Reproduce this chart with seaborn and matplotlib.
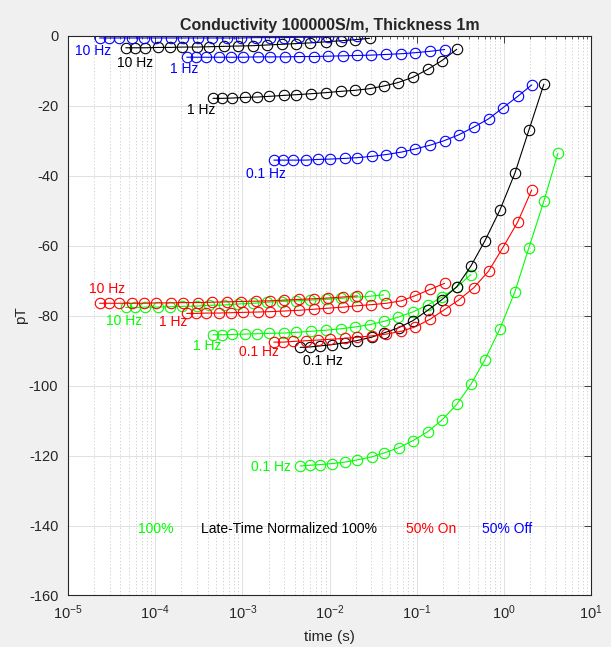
import numpy as np
import pandas as pd
import matplotlib
matplotlib.use("Agg")
import matplotlib.pyplot as plt
import seaborn as sns
from matplotlib.ticker import LogLocator, FixedLocator, NullFormatter

# ---------------- data ----------------
# 100% (green)
t_green_01 = [0.0046, 0.0059, 0.0077, 0.0108, 0.0149, 0.0204, 0.0304, 0.0418, 0.0621, 0.0900,
              0.134, 0.194, 0.288, 0.418, 0.605, 0.900, 1.34, 1.94, 2.88, 4.18]
v_green_01 = [-123.0, -122.8, -122.6, -122.3, -121.9, -121.3, -120.4, -119.3, -117.8, -115.8,
              -113.2, -109.9, -105.4, -99.7, -92.7, -83.8, -73.2, -60.6, -47.3, -33.6]
t_green_1 = [0.00046, 0.00059, 0.00077, 0.00108, 0.00149, 0.00204, 0.00304, 0.00418, 0.00621, 0.00900,
             0.0134, 0.0194, 0.0288, 0.0418, 0.0605, 0.0900, 0.134, 0.194, 0.288, 0.418]
v_green_1 = [-85.5, -85.5, -85.4, -85.3, -85.2, -85.1, -85.0, -84.8, -84.5, -84.2,
             -83.8, -83.3, -82.6, -81.7, -80.5, -79.0, -77.0, -74.8, -71.9, -68.3]
t_green_10 = [4.6e-05, 5.9e-05, 7.7e-05, 1.08e-04, 1.49e-04, 2.04e-04, 3.04e-04, 4.18e-04, 6.21e-04, 9.0e-04,
              1.34e-03, 1.94e-03, 2.88e-03, 4.18e-03, 6.05e-03, 9.0e-03, 0.0134, 0.0194, 0.0288, 0.0418]
v_green_10 = [-77.7, -77.7, -77.6, -77.6, -77.5, -77.4, -77.3, -77.1, -77.0, -76.7,
              -76.5, -76.2, -76.0, -75.8, -75.6, -75.4, -75.1, -74.8, -74.5, -74.1]

# Late-Time Normalized 100% (black)
t_black_01 = [0.0046, 0.0059, 0.0077, 0.0108, 0.0149, 0.0204, 0.0304, 0.0418, 0.0621, 0.0900,
              0.134, 0.194, 0.288, 0.418, 0.605, 0.900, 1.34, 1.94, 2.88]
v_black_01 = [-89.1, -89.0, -88.7, -88.3, -87.8, -87.2, -86.2, -85.0, -83.5, -81.5,
              -78.5, -75.5, -71.8, -65.9, -58.7, -49.9, -39.3, -27.0, -13.9]
t_black_1 = [0.00046, 0.00059, 0.00077, 0.00108, 0.00149, 0.00204, 0.00304, 0.00418, 0.00621, 0.00900,
             0.0134, 0.0194, 0.0288, 0.0418, 0.0605, 0.0900, 0.134, 0.194, 0.288]
v_black_1 = [-17.95, -17.95, -17.86, -17.67, -17.57, -17.38, -17.10, -16.90, -16.62, -16.33,
             -15.95, -15.67, -15.19, -14.43, -13.48, -11.95, -9.67, -7.19, -3.95]
t_black_10 = [4.6e-05, 5.9e-05, 7.7e-05, 1.08e-04, 1.49e-04, 2.04e-04, 3.04e-04, 4.18e-04, 6.21e-04, 9.0e-04,
              1.34e-03, 1.94e-03, 2.88e-03, 4.18e-03, 6.05e-03, 9.0e-03, 0.0134, 0.0194, 0.0288]
v_black_10 = [-3.5, -3.5, -3.5, -3.4, -3.4, -3.3, -3.3, -3.2, -3.1, -3.0,
              -2.9, -2.7, -2.5, -2.3, -2.1, -1.8, -1.5, -1.2, -0.8]

# 50% On (red)
t_red_01 = [0.0023, 0.00295, 0.00385, 0.0054, 0.00745, 0.0102, 0.0152, 0.0209, 0.0311, 0.0450,
            0.0669, 0.0969, 0.144, 0.209, 0.302, 0.450, 0.669, 0.969, 1.44, 2.09]
v_red_01 = [-87.6, -87.6, -87.4, -87.2, -87.0, -86.8, -86.5, -86.2, -85.8, -85.3,
            -84.5, -83.2, -81.0, -78.3, -75.6, -72.1, -67.3, -60.7, -53.3, -44.1]
t_red_1 = [0.00023, 0.000295, 0.000385, 0.00054, 0.000745, 0.00102, 0.00152, 0.00209, 0.00311, 0.00450,
           0.00669, 0.00969, 0.0144, 0.0209, 0.0302, 0.0450, 0.0669, 0.0969, 0.144, 0.209]
v_red_1 = [-79.4, -79.4, -79.3, -79.3, -79.2, -79.1, -79.0, -78.9, -78.7, -78.5,
           -78.2, -77.9, -77.6, -77.2, -76.9, -76.5, -75.8, -74.3, -72.5, -70.8]
t_red_10 = [2.3e-05, 2.95e-05, 3.85e-05, 5.4e-05, 7.45e-05, 1.02e-04, 1.52e-04, 2.09e-04, 3.11e-04, 4.50e-04,
            6.69e-04, 9.69e-04, 1.44e-03, 2.09e-03, 3.02e-03, 4.50e-03, 6.69e-03, 9.69e-03, 0.0144, 0.0209]
v_red_10 = [-76.5, -76.5, -76.5, -76.5, -76.5, -76.4, -76.4, -76.3, -76.3, -76.2,
            -76.1, -76.0, -75.9, -75.8, -75.6, -75.4, -75.2, -75.0, -74.7, -74.4]

# 50% Off (blue)
t_blue_01 = [0.0023, 0.00295, 0.00385, 0.0054, 0.00745, 0.0102, 0.0152, 0.0209, 0.0311, 0.0450,
             0.0669, 0.0969, 0.144, 0.209, 0.302, 0.450, 0.669, 0.969, 1.44, 2.09]
v_blue_01 = [-35.6, -35.6, -35.6, -35.6, -35.4, -35.3, -35.1, -34.9, -34.5, -34.0,
             -33.3, -32.4, -31.3, -30.0, -28.4, -26.2, -23.8, -20.7, -17.4, -14.1]
t_blue_1 = [0.00023, 0.000295, 0.000385, 0.00054, 0.000745, 0.00102, 0.00152, 0.00209, 0.00311, 0.00450,
            0.00669, 0.00969, 0.0144, 0.0209, 0.0302, 0.0450, 0.0669, 0.0969, 0.144, 0.209]
v_blue_1 = [-6.2, -6.2, -6.2, -6.2, -6.2, -6.2, -6.1, -6.1, -6.1, -6.0,
            -6.0, -5.9, -5.8, -5.7, -5.6, -5.4, -5.2, -4.9, -4.5, -4.0]
t_blue_10 = [2.3e-05, 2.95e-05, 3.85e-05, 5.4e-05, 7.45e-05, 1.02e-04, 1.52e-04, 2.09e-04, 3.11e-04, 4.50e-04,
             6.69e-04, 9.69e-04, 1.44e-03, 2.09e-03, 3.02e-03, 4.50e-03, 6.69e-03, 9.69e-03, 0.0144, 0.0209]
v_blue_10 = [-0.7, -0.7, -0.7, -0.7, -0.7, -0.7, -0.7, -0.7, -0.7, -0.7,
             -0.7, -0.7, -0.6, -0.6, -0.6, -0.5, -0.5, -0.4, -0.3, -0.2]

y_ticks = [0, -20, -40, -60, -80, -100, -120, -140, -160]

# curve labels: (text, color, t, value)
curve_labels = [
    ("10 Hz", "blue", 1.20e-5, -4.3),
    ("10 Hz", "black", 3.69e-5, -7.8),
    ("1 Hz", "blue", 1.49e-4, -9.7),
    ("1 Hz", "black", 2.33e-4, -21.3),
    ("0.1 Hz", "blue", 1.11e-3, -39.6),
    ("10 Hz", "red", 1.74e-5, -72.5),
    ("10 Hz", "green", 2.71e-5, -81.7),
    ("1 Hz", "red", 1.11e-4, -81.9),
    ("1 Hz", "green", 2.69e-4, -88.7),
    ("0.1 Hz", "red", 9.24e-4, -90.3),
    ("0.1 Hz", "black", 4.93e-3, -92.9),
    ("0.1 Hz", "green", 1.26e-3, -123.4),
]
key_labels = [
    ("100%", "green", 6.27e-5, -141.1),
    ("Late-Time Normalized 100%", "black", 3.37e-4, -141.1),
    ("50% On", "red", 0.0748, -141.1),
    ("50% Off", "blue", 0.566, -141.1),
]

# ---------------- style ----------------
sns.set_style("white")
plt.rcParams["font.family"] = ["Liberation Sans", "DejaVu Sans"]
plt.rcParams["axes.unicode_minus"] = False

COL = {"green": "#00ff00", "black": "#000000", "red": "#ff0000", "blue": "#0000ff"}

fig = plt.figure(figsize=(6.11, 6.47), dpi=100, facecolor="#f0f0f0")
ax = fig.add_axes([0.1113, 0.0796, 0.856, 0.8655])
ax.set_facecolor("white")

curves = [
    (t_green_01, v_green_01, "green"), (t_green_1, v_green_1, "green"), (t_green_10, v_green_10, "green"),
    (t_black_01, v_black_01, "black"), (t_black_1, v_black_1, "black"), (t_black_10, v_black_10, "black"),
    (t_red_01, v_red_01, "red"), (t_red_1, v_red_1, "red"), (t_red_10, v_red_10, "red"),
    (t_blue_01, v_blue_01, "blue"), (t_blue_1, v_blue_1, "blue"), (t_blue_10, v_blue_10, "blue"),
]
for t, v, c in curves:
    df = pd.DataFrame({"t": t, "v": v})
    sns.lineplot(data=df, x="t", y="v", ax=ax, color=COL[c], linewidth=0.8,
                 marker="o", markersize=7.5, markerfacecolor="none",
                 markeredgecolor=COL[c], markeredgewidth=0.8,
                 estimator=None, sort=False, legend=False)

ax.set_xscale("log")
ax.set_xlim(1e-5, 1e1)
ax.set_ylim(-160, 0)
ax.yaxis.set_major_locator(FixedLocator(y_ticks))
ax.xaxis.set_major_locator(LogLocator(base=10, numticks=20))
ax.xaxis.set_minor_locator(LogLocator(base=10, subs=np.arange(2, 10), numticks=20))
ax.xaxis.set_minor_formatter(NullFormatter())

ax.grid(True, which="major", color="#dcdcdc", linewidth=0.6, linestyle="-")
ax.grid(True, which="minor", axis="x", color="#c8c8c8", linewidth=0.6, linestyle=(0, (1.5, 2.5)))
ax.set_axisbelow(True)

for s in ax.spines.values():
    s.set_visible(True)
    s.set_color("#262626")
    s.set_linewidth(0.8)

ax.tick_params(which="both", direction="in", top=True, right=True, colors="#262626",
               labelcolor="#262626")
ax.tick_params(axis="y", labelsize=10.5, pad=7)
ax.tick_params(axis="x", labelsize=10.5, pad=6)
ax.tick_params(which="major", length=5, width=0.6)
ax.tick_params(which="minor", length=2.5, width=0.5)

ax.set_xlabel("time (s)", fontsize=11, color="#262626")
ax.set_ylabel("pT", fontsize=11, color="#262626")
ax.xaxis.set_label_coords(0.5, -0.061)
ax.yaxis.set_label_coords(-0.076, 0.5)
ax.set_title("Conductivity 100000S/m, Thickness 1m", fontsize=11.5, fontweight="bold", pad=4)

for txt, c, tx, vy in curve_labels + key_labels:
    ax.text(tx, vy, txt, color=COL[c], fontsize=10, ha="left", va="center")

fig.savefig("out.png", dpi=100, facecolor=fig.get_facecolor())
